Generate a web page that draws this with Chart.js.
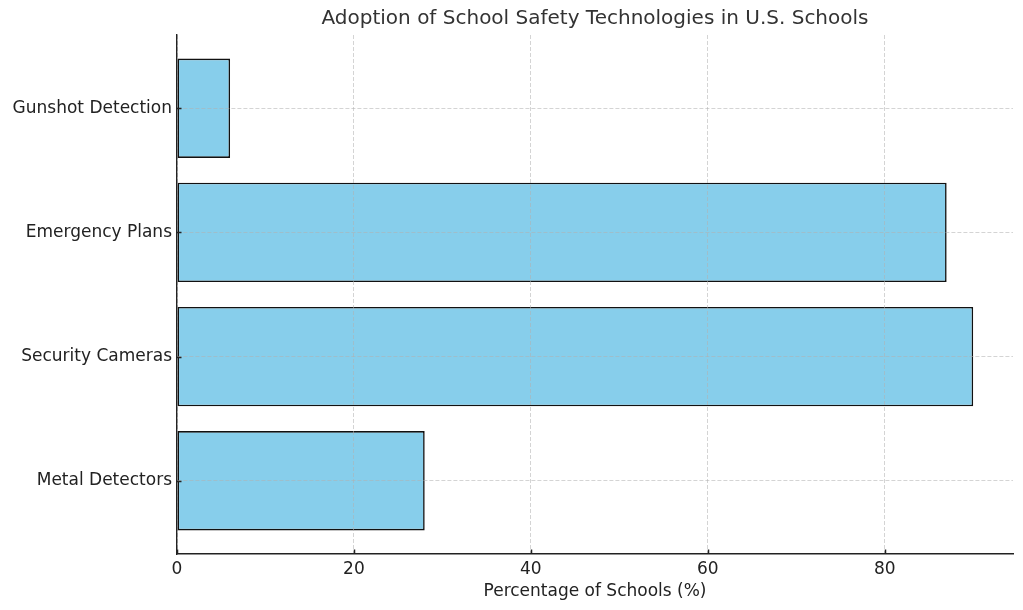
<!DOCTYPE html>
<html>
<head>
<meta charset="utf-8">
<script src="https://cdn.jsdelivr.net/npm/chart.js@4"></script>
<style>
  html, body { margin: 0; padding: 0; background: #fff; }
  #wrap { width: 1023px; height: 610px; }
</style>
</head>
<body>
<div id="wrap"><canvas id="myChart"></canvas></div>
<script>
// bottom-to-top order, as in the original
var categories = ['Metal Detectors', 'Security Cameras', 'Emergency Plans', 'Gunshot Detection'];
var percentages = [28, 90, 87, 6];
var xTicks = [0, 20, 40, 60, 80];

var font = "'DejaVu Sans', sans-serif";
Chart.defaults.font.family = font;
Chart.defaults.color = '#222';

var gridColor = 'rgba(176,176,176,0.55)';
var axisColor = '#222';

// matplotlib-like ticks pointing into the plot
var inwardTicks = {
  id: 'inwardTicks',
  afterDraw: function (chart) {
    var c = chart.ctx, a = chart.chartArea;
    var xs = chart.scales.x, ys = chart.scales.y;
    c.save();
    c.strokeStyle = axisColor;
    c.lineWidth = 1.5;
    c.beginPath();
    xs.ticks.forEach(function (t) {
      var px = Math.round(xs.getPixelForValue(t.value)) + 0.5;
      c.moveTo(px, a.bottom);
      c.lineTo(px, a.bottom - 4.5);
    });
    ys.ticks.forEach(function (t) {
      var py = Math.round(ys.getPixelForValue(t.value)) + 0.5;
      c.moveTo(a.left, py);
      c.lineTo(a.left + 4.5, py);
    });
    c.stroke();
    c.restore();
  }
};

var ctx = document.getElementById('myChart').getContext('2d');
var myChart = new Chart(ctx, {
  type: 'bar',
  data: {
    datasets: [{
      label: 'Percentage of Schools',
      data: categories.map(function (c, i) { return { x: percentages[i], y: i }; }),
      backgroundColor: '#87CEEB',
      borderColor: '#111',
      borderWidth: 1.6,
      borderSkipped: false,
      barPercentage: 0.8,
      categoryPercentage: 1
    }]
  },
  plugins: [inwardTicks],
  options: {
    indexAxis: 'y',
    responsive: true,
    maintainAspectRatio: false,
    animation: false,
    layout: { padding: { left: 0, right: 10, top: 0, bottom: 0 } },
    plugins: {
      legend: { display: false },
      tooltip: { enabled: false },
      title: {
        display: true,
        fullSize: false,
        text: 'Adoption of School Safety Technologies in U.S. Schools',
        color: '#333',
        font: { size: 20, weight: 'normal', family: font },
        padding: { top: 7, bottom: 4 }
      }
    },
    scales: {
      x: {
        type: 'linear',
        min: 0,
        max: 94.5,
        offset: false,
        afterBuildTicks: function (s) {
          s.ticks = xTicks.map(function (v) { return { value: v }; });
        },
        afterFit: function (s) { s.height = 56; },
        ticks: { font: { size: 17 }, color: axisColor, padding: 5, maxRotation: 0 },
        grid: { color: gridColor, lineWidth: 1, z: 1, drawTicks: false, offset: false },
        border: { color: axisColor, width: 1.4, dash: [4, 2], z: 2 },
        title: {
          display: true,
          text: 'Percentage of Schools (%)',
          color: axisColor,
          font: { size: 17 },
          padding: { top: 2, bottom: 8 }
        }
      },
      y: {
        type: 'linear',
        min: -0.59,
        max: 3.59,
        offset: false,
        afterBuildTicks: function (s) {
          s.ticks = categories.map(function (c, i) { return { value: i }; });
        },
        afterFit: function (s) { s.width = 177; },
        ticks: {
          font: { size: 17 },
          color: axisColor,
          padding: 5,
          callback: function (v) { return categories[v]; }
        },
        grid: { color: gridColor, lineWidth: 1, z: 1, drawTicks: false, offset: false },
        border: { color: axisColor, width: 1.4, dash: [4, 2], z: 2 }
      }
    }
  }
});
</script>
</body>
</html>
